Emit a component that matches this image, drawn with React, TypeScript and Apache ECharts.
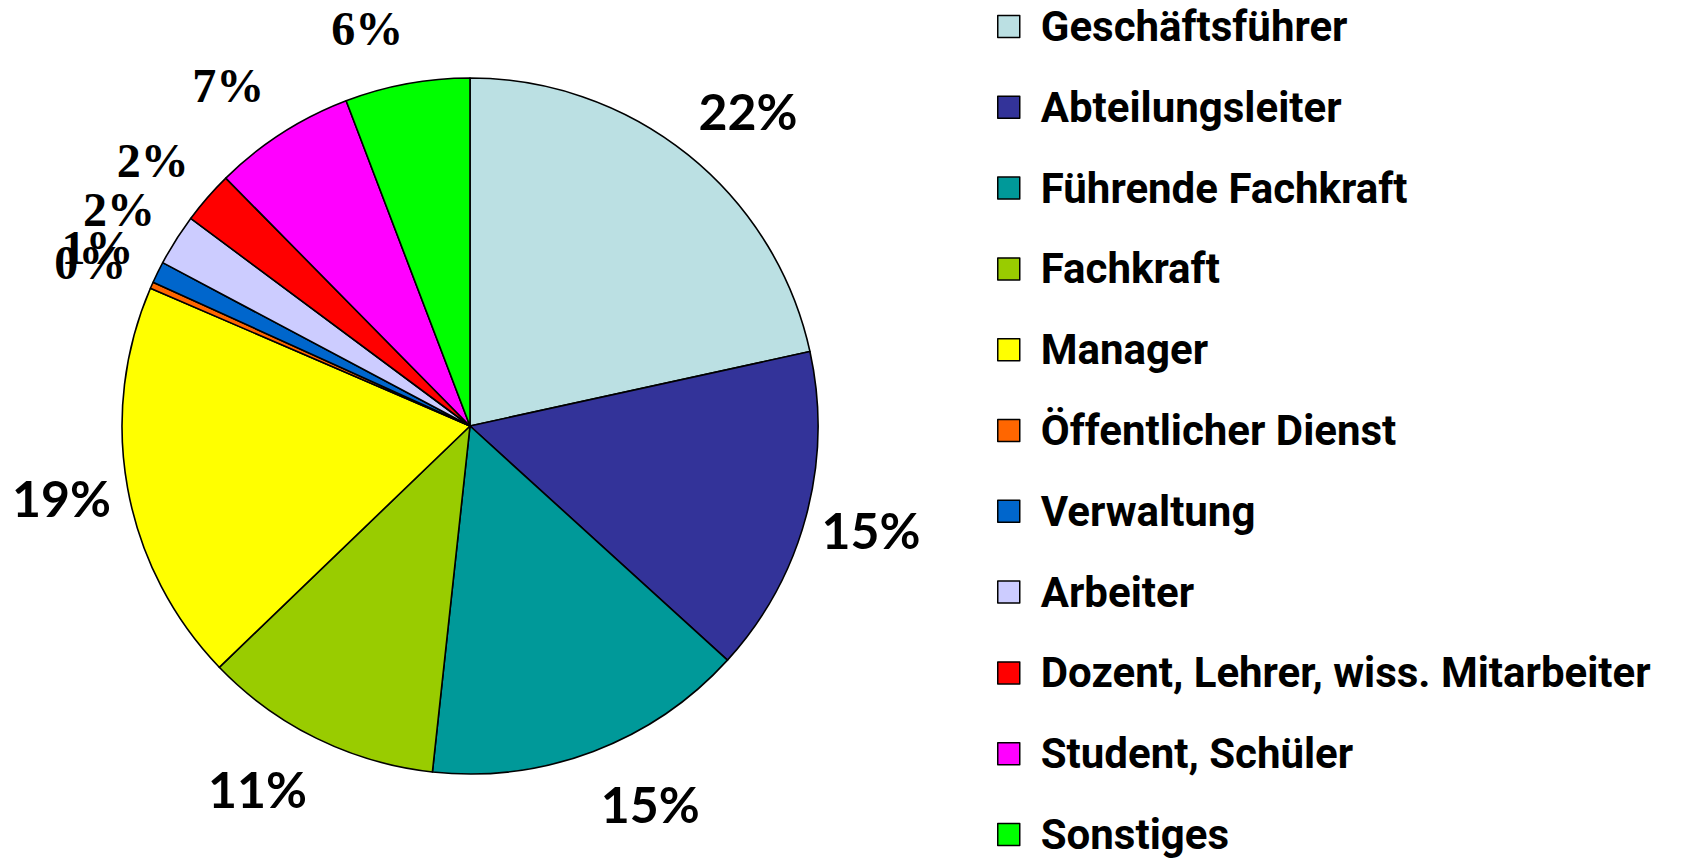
import React, { useEffect, useRef } from "react";
import * as echarts from "echarts";

const categories = [
  "Geschäftsführer",
  "Abteilungsleiter",
  "Führende Fachkraft",
  "Fachkraft",
  "Manager",
  "Öffentlicher Dienst",
  "Verwaltung",
  "Arbeiter",
  "Dozent, Lehrer, wiss. Mitarbeiter",
  "Student, Schüler",
  "Sonstiges",
];
const values = [21.6, 15.2, 15.0, 11.1, 18.7, 0.3, 1.0, 2.4, 2.45, 6.6, 5.8];
const colors = [
  "#BBE0E3",
  "#333399",
  "#009999",
  "#99CC00",
  "#FFFF00",
  "#FF6600",
  "#0066CC",
  "#CCCCFF",
  "#FF0000",
  "#FF00FF",
  "#00FF00",
];

const SANS_LABEL = "Lato, 'Open Sans', sans-serif";
const SERIF_LABEL = "'Liberation Serif', 'DejaVu Serif', serif";
const CX = 470;
const CY = 426;
const R = 348;

export default function App() {
  const ref = useRef<HTMLDivElement>(null);
  useEffect(() => {
    if (!ref.current) return;
    const chart = echarts.init(ref.current, undefined, { renderer: "svg" });
    const total = values.reduce((a, b) => a + b, 0);
    const pct = (v: number) => Math.round((v / total) * 100) + "%";
    // mid angles (radians, clockwise from 12 o'clock), derived from the data
    const mids: number[] = [];
    let acc = 0;
    values.forEach((v) => {
      mids.push(((acc + v / 2) / total) * Math.PI * 2);
      acc += v;
    });
    const data = categories.map((name, i) => {
      const big = values[i] / total >= 0.1;
      return {
        name,
        value: values[i],
        itemStyle: { color: colors[i] },
        label: {
          fontFamily: big ? SANS_LABEL : SERIF_LABEL,
          fontSize: big ? 50 : 48,
        },
      };
    });
    chart.setOption({
      animation: false,
      backgroundColor: "#ffffff",
      legend: {
        orient: "vertical",
        left: 997,
        top: 5.5,
        height: 900,
        padding: 0,
        itemWidth: 22,
        itemHeight: 22,
        itemGap: 38.8,
        icon: "rect",
        selectedMode: false,
        itemStyle: { borderColor: "#000", borderWidth: 1.5 },
        textStyle: {
          fontSize: 42,
          lineHeight: 41,
          fontWeight: "bold",
          color: "#000",
          fontFamily: "Roboto, 'DejaVu Sans Condensed', sans-serif",
          padding: [0, 0, 0, 16],
        },
        data: categories,
      },
      series: [
        {
          type: "pie",
          center: [CX, CY],
          radius: [0, R],
          startAngle: 90,
          clockwise: true,
          silent: true,
          avoidLabelOverlap: false,
          label: {
            show: true,
            position: "outside",
            color: "#000",
            fontWeight: "bold",
            formatter: (p: any) => pct(p.value),
          },
          labelLine: { show: false },
          labelLayout: (params: any) => {
            const a = mids[params.dataIndex];
            const dx = Math.sin(a);
            const dy = -Math.cos(a);
            const w = params.labelRect.width;
            const extra =
              Math.sign(dx) * (w / 2) * Math.max(0, Math.abs(dy) - 0.6) * 2;
            return {
              x: CX + dx * R * 1.193 + extra,
              y: CY + dy * R * 1.162,
              align: "center",
              verticalAlign: "middle",
            };
          },
          itemStyle: { borderColor: "#000", borderWidth: 1.6 },
          data,
        },
      ],
    });
    return () => chart.dispose();
  }, []);
  return (
    <div
      ref={ref}
      style={{ position: "fixed", left: 0, top: 0, width: 1688, height: 858 }}
    />
  );
}
